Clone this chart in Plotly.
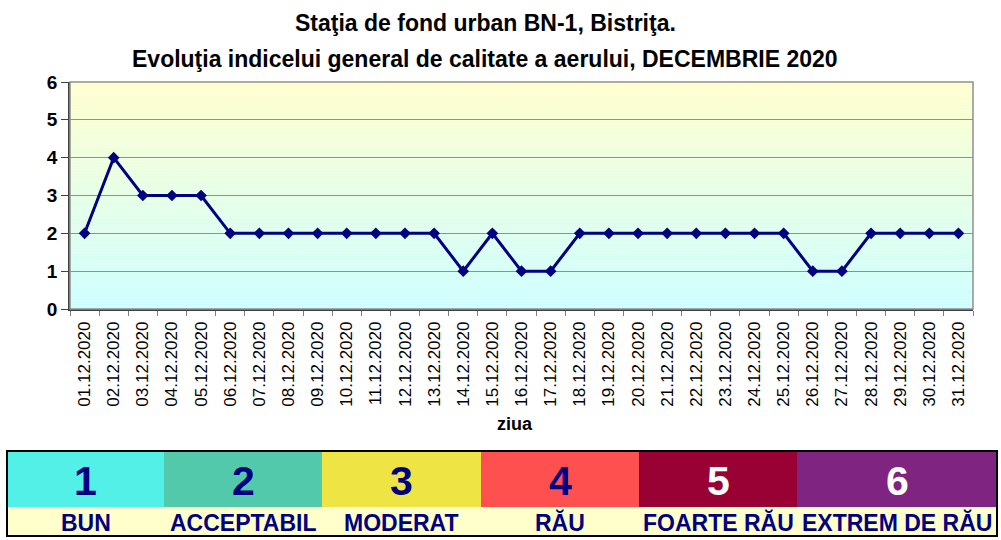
import plotly.graph_objects as go

W, H = 1001, 540

days = [f"{d:02d}.12.2020" for d in range(1, 32)]
values = [2, 4, 3, 3, 3, 2, 2, 2, 2, 2, 2, 2, 2, 1, 2, 1, 1, 2, 2, 2, 2, 2, 2, 2, 2, 1, 1, 2, 2, 2, 2]

level_numbers = ["1", "2", "3", "4", "5", "6"]
level_names = ["BUN", "ACCEPTABIL", "MODERAT", "RĂU", "FOARTE RĂU", "EXTREM DE RĂU"]
level_colors = ["#52F0E6", "#52C9AA", "#EEE443", "#FF5050", "#990033", "#7F2480"]
level_text_colors = ["#000080", "#000080", "#000080", "#000080", "#FFFFFF", "#FFFFFF"]

title_line1 = "Staţia de fond urban BN-1, Bistriţa."
title_line2 = "Evoluţia indicelui general de calitate a aerului, DECEMBRIE 2020"

# plot area in pixels
PL, PR, PT, PB = 70, 973, 82, 309

def px(x):
    return x / W

def py(y):
    return 1 - y / H

fig = go.Figure()
fig.add_trace(go.Scatter(
    x=days, y=values, mode="lines+markers",
    line=dict(color="#000080", width=3),
    marker=dict(symbol="diamond", size=9, color="#000080"),
    showlegend=False, hoverinfo="x+y",
))

shapes = []
# vertical gradient background (yellow top -> cyan bottom)
n = 80
top = (255, 255, 204)
bot = (204, 255, 255)
for i in range(n):
    t = (i + 0.5) / n
    c = tuple(round(bot[k] + (top[k] - bot[k]) * t) for k in range(3))
    shapes.append(dict(type="rect", xref="x domain", yref="y domain",
                       x0=0, x1=1, y0=i / n, y1=(i + 1) / n,
                       fillcolor=f"rgb{c}", line=dict(width=0), layer="below"))
# plot border
shapes.append(dict(type="rect", xref="x domain", yref="y domain", x0=0, x1=1, y0=0, y1=1,
                   line=dict(color="#909090", width=1.5), layer="above"))

TFONT = "Liberation Sans Narrow, Arial Narrow, Arial"
annotations = [
    dict(text=f"<b>{title_line1}</b>", x=px(485), y=py(23), xref="paper", yref="paper",
         xanchor="center", yanchor="middle",
         showarrow=False, font=dict(family=TFONT, size=23, color="#000")),
    dict(text=f"<b>{title_line2}</b>", x=px(485), y=py(59), xref="paper", yref="paper",
         xanchor="center", yanchor="middle",
         showarrow=False, font=dict(family=TFONT, size=23, color="#000")),
]

# legend table
bounds = [7, 164, 322, 481, 639, 797, 997]
TT, TM, TB = 451, 507, 536
for i in range(6):
    x0, x1 = bounds[i], bounds[i + 1]
    shapes.append(dict(type="rect", xref="paper", yref="paper",
                       x0=px(x0), x1=px(x1), y0=py(TM), y1=py(TT),
                       fillcolor=level_colors[i], line=dict(width=0)))
    shapes.append(dict(type="rect", xref="paper", yref="paper",
                       x0=px(x0), x1=px(x1), y0=py(TB), y1=py(TM),
                       fillcolor="#FFFFCC", line=dict(width=0)))
    annotations.append(dict(text=f"<b>{level_numbers[i]}</b>", x=px((x0 + x1) / 2), y=py((TT + TM) / 2 + 2),
                            xref="paper", yref="paper", showarrow=False,
                            xanchor="center", yanchor="middle",
                            font=dict(family="Liberation Sans, Arial", size=41, color=level_text_colors[i])))
    annotations.append(dict(text=f"<b>{level_names[i]}</b>", x=px((x0 + x1) / 2), y=py((TM + TB) / 2 + 1),
                            xref="paper", yref="paper", showarrow=False,
                            xanchor="center", yanchor="middle",
                            font=dict(family="Liberation Sans, Arial", size=23, color="#000080")))
shapes.append(dict(type="rect", xref="paper", yref="paper",
                   x0=px(bounds[0]), x1=px(bounds[-1]), y0=py(TB), y1=py(TT),
                   line=dict(color="#000000", width=2)))

annotations.append(dict(text="<b>ziua</b>", x=px(515), y=py(424), xref="paper", yref="paper",
                        xanchor="center", yanchor="middle",
                        showarrow=False, font=dict(family=TFONT, size=18, color="#000")))

fig.update_layout(
    width=W, height=H, autosize=False,
    margin=dict(l=0, r=0, t=0, b=0, pad=0, autoexpand=False),
    paper_bgcolor="white", plot_bgcolor="rgba(0,0,0,0)",
    shapes=shapes, annotations=annotations,
    xaxis=dict(domain=[px(PL), px(PR)], type="category", tickangle=-90, automargin=False,
               range=[-0.5, len(days) - 0.5],
               tickson="boundaries", ticks="outside", ticklen=5, tickcolor="#808080",
               ticklabelstandoff=4,
               showline=True, linecolor="#404040", linewidth=1.5, showgrid=False,
               tickfont=dict(family="Liberation Sans, Arial", size=17, color="#000")),
    yaxis=dict(domain=[py(PB), py(PT)], range=[0, 6], dtick=1, ticks="outside", ticklen=7,
               automargin=False,
               tickcolor="#404040", showline=True, linecolor="#404040", linewidth=1.5,
               gridcolor="#909090", gridwidth=1, zeroline=False,
               tickfont=dict(family=TFONT, size=19, color="#000"),
               tickprefix="<b>", ticksuffix="</b>"),
)

fig.write_html("out.html", config={"displayModeBar": False},
               post_script="document.body.style.margin='0';document.body.style.overflow='hidden';")
